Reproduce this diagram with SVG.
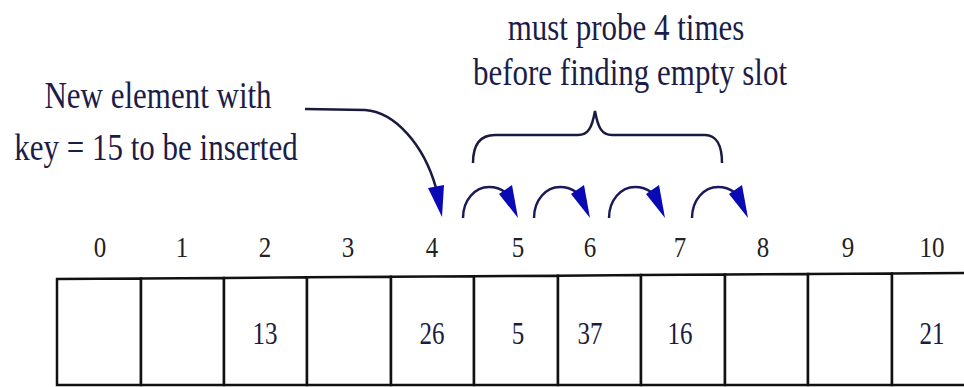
<svg xmlns="http://www.w3.org/2000/svg" xmlns:xlink="http://www.w3.org/1999/xlink" width="964" height="387" viewBox="0 0 964 387">
<style>
.lbl{font-family:"Liberation Serif","Times New Roman",serif;font-size:31px;fill:#1c1c48;text-anchor:middle}
.idx{font-family:"Liberation Serif","Times New Roman",serif;font-size:25px;fill:#222;text-anchor:middle}
.val{font-family:"Liberation Serif","Times New Roman",serif;font-size:25px;fill:#1c1c3c;text-anchor:middle}
.cell{fill:#fff;stroke:#111;stroke-width:2.5;stroke-linejoin:miter}
.ln{fill:none;stroke:#1a1a40;stroke-width:2.5}
.arc{fill:none;stroke:#1a1a5a;stroke-width:2.5}
.head{fill:#0a0ab4}
</style>
<defs>
<path id="sh" d="M-19,-24 L-6,-33 L0,0 Z"/>
</defs>
<rect width="964" height="387" fill="#fff"/>
<g id="label-new">
<text class="lbl" transform="translate(158,108) scale(1,1.25)">New element with</text>
<text class="lbl" transform="translate(156,160) scale(1,1.25)">key = 15 to be inserted</text>
</g>
<g id="label-probe">
<text class="lbl" transform="translate(626,40) scale(1,1.25)">must probe 4 times</text>
<text class="lbl" transform="translate(630,85) scale(1,1.25)">before finding empty slot</text>
</g>
<g id="table">
<g id="cell0"><path class="cell" d="M57 385 V279 L141 278.4 V385 Z"/><text class="idx" transform="translate(100,257) scale(1,1.2)">0</text></g>
<g id="cell1"><path class="cell" d="M141 385 V278.4 L224 277.9 V385 Z"/><text class="idx" transform="translate(182,257) scale(1,1.2)">1</text></g>
<g id="cell2"><path class="cell" d="M224 385 V277.9 L307 277.3 V385 Z"/><text class="idx" transform="translate(265,257) scale(1,1.2)">2</text><text class="val" transform="translate(265,344) scale(1,1.3)">13</text></g>
<g id="cell3"><path class="cell" d="M307 385 V277.3 L391 276.8 V385 Z"/><text class="idx" transform="translate(348,257) scale(1,1.2)">3</text></g>
<g id="cell4"><path class="cell" d="M391 385 V276.8 L474 276.2 V385 Z"/><text class="idx" transform="translate(432,257) scale(1,1.2)">4</text><text class="val" transform="translate(432,344) scale(1,1.3)">26</text></g>
<g id="cell5"><path class="cell" d="M474 385 V276.2 L558 275.7 V385 Z"/><text class="idx" transform="translate(518,257) scale(1,1.2)">5</text><text class="val" transform="translate(518,344) scale(1,1.3)">5</text></g>
<g id="cell6"><path class="cell" d="M558 385 V275.7 L641 275.1 V385 Z"/><text class="idx" transform="translate(590,257) scale(1,1.2)">6</text><text class="val" transform="translate(590,344) scale(1,1.3)">37</text></g>
<g id="cell7"><path class="cell" d="M641 385 V275.1 L725 274.6 V385 Z"/><text class="idx" transform="translate(680,257) scale(1,1.2)">7</text><text class="val" transform="translate(680,344) scale(1,1.3)">16</text></g>
<g id="cell8"><path class="cell" d="M725 385 V274.6 L808 274 V385 Z"/><text class="idx" transform="translate(763,257) scale(1,1.2)">8</text></g>
<g id="cell9"><path class="cell" d="M808 385 V274 L892 273.5 V385 Z"/><text class="idx" transform="translate(848,257) scale(1,1.2)">9</text></g>
<g id="cell10"><path class="cell" d="M892 385 V273.5 L976 272.9 V385 Z"/><text class="idx" transform="translate(932,257) scale(1,1.2)">10</text><text class="val" transform="translate(932,344) scale(1,1.3)">21</text></g>
</g>
<g id="connectors">
<path class="ln" d="M305 109 L365 110 C395 112 424 145 436 188"/>
<polygon class="head" points="428,188 444,185 442,217"/>
<path class="ln" d="M473 163 C473 145 480 135 495 135 L578 135 C588 135 592 128 595 111 C598 128 602 135 612 135 L705 135 C716 135 722 145 722 163"/>
<path class="arc" d="M463 218 C463 200 475 187 489 187 C496 187 501 189 505 192"/>
<use xlink:href="#sh" class="head" x="518" y="218"/>
<path class="arc" d="M534 218 C534 200 546 187 560 187 C567 187 572 189 576 192"/>
<use xlink:href="#sh" class="head" x="590" y="218"/>
<path class="arc" d="M609 218 C609 200 621 187 635 187 C642 187 647 189 651 192"/>
<use xlink:href="#sh" class="head" x="665" y="218"/>
<path class="arc" d="M692 218 C692 200 704 187 718 187 C725 187 730 189 734 192"/>
<use xlink:href="#sh" class="head" x="748" y="218"/>
</g>
</svg>
